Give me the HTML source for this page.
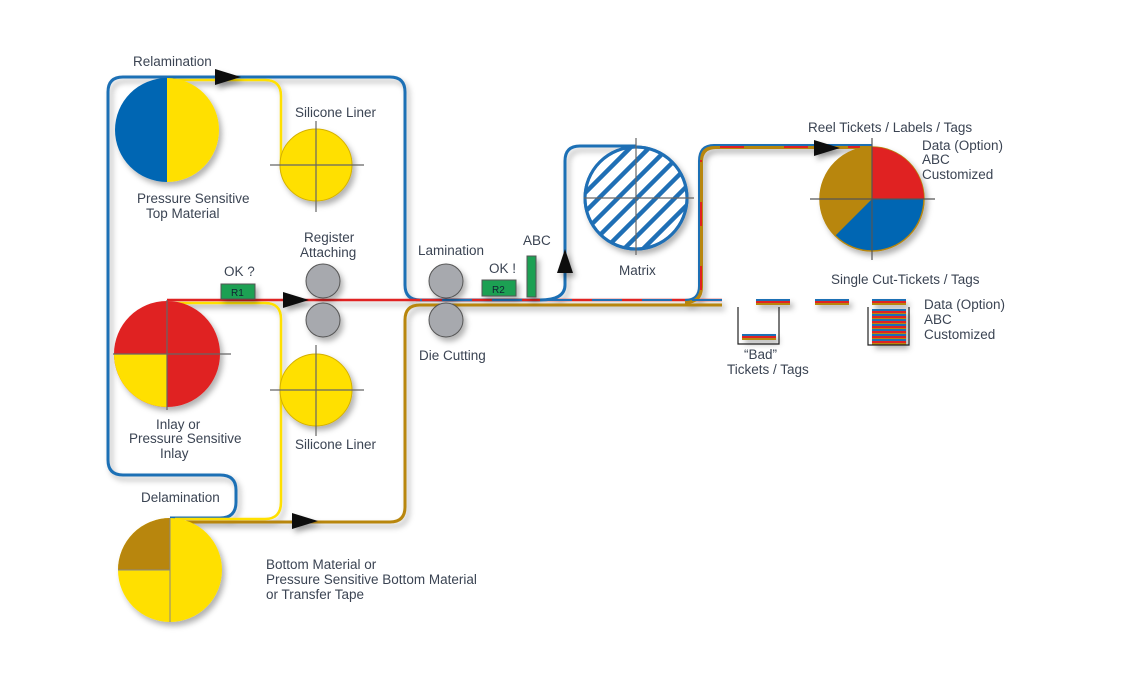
<!DOCTYPE html>
<html><head><meta charset="utf-8"><style>
html,body{margin:0;padding:0;background:#fff;}
svg{display:block}
text{font-family:"Liberation Sans",sans-serif;font-size:13.5px;fill:#3b4453;}
</style></head><body>
<svg width="1133" height="698" viewBox="0 0 1133 698" xmlns="http://www.w3.org/2000/svg">
<defs>
<filter id="sh" x="-20%" y="-20%" width="150%" height="150%"><feDropShadow dx="3" dy="4" stdDeviation="3" flood-color="#000" flood-opacity="0.3"/></filter>
<clipPath id="mc"><circle cx="636" cy="198" r="51"/></clipPath>
<g id="tk"><rect x="0" y="0" width="34" height="2" fill="#1f6fb5"/><rect x="0" y="2" width="34" height="2" fill="#e02020"/><rect x="0" y="4" width="34" height="2" fill="#b8860b"/></g>
</defs>

<g fill="none" stroke-width="3" filter="url(#sh)">
<path d="M170 518 L220 518 Q236 518 236 502 L236 490 Q236 475 220 475 L123 475 Q108 475 108 460 L108 92 Q108 77 123 77 L390 77 Q405 77 405 92 L405 285 Q405 300 420 300 L540 300" stroke="#1f6fb5"/>
<path d="M167 80 L265 80 Q281 80 281 96 L281 165" stroke="#ffe000" stroke-width="2.5"/>
<path d="M167 303 L265 303 Q281 303 281 319 L281 502 Q281 519 265 519 L175 519" stroke="#ffe000" stroke-width="2.5"/>
<path d="M175 522 L390 522 Q405 522 405 507 L405 320 Q405 305 420 305 L722 305" stroke="#b8860b"/>
<path d="M167 300 L722 300" stroke="#e02020" stroke-width="2.5"/>
<path d="M540 300 Q565 300 565 285 L565 161 Q565 146 580 146 L636 146" stroke="#1f6fb5"/>
<path d="M685 302 Q701 302 701 287 L701 162 Q701 147 716 147 L872 147" stroke="#b8860b" stroke-width="4"/>
<path d="M685 300 Q699 300 699 286 L699 161 Q699 145 714 145 L872 145" stroke="#1f6fb5" stroke-width="2"/>
</g>
<path d="M722 300 L420 300" stroke="#1f6fb5" stroke-width="2" stroke-dasharray="30 20" fill="none"/>
<path d="M701 290 L701 160 M720 147 L860 147" stroke="#e02020" stroke-width="2" stroke-dasharray="24 40" fill="none"/>

<g fill="#111" filter="url(#sh)">
<polygon points="215,69 241,77 215,85"/>
<polygon points="283,292 309,300 283,308"/>
<polygon points="292,513 318,521 292,529"/>
<polygon points="557,273 565,249 573,273"/>
<polygon points="814,140 840,148 814,156"/>
</g>

<g filter="url(#sh)">
<path d="M167 78 A52 52 0 0 0 167 182 Z" fill="#0066b3"/>
<path d="M167 78 A52 52 0 0 1 167 182 Z" fill="#ffe000"/>
</g>
<circle cx="316" cy="165" r="36" fill="#ffe000" stroke="#d4b000" filter="url(#sh)"/>
<path d="M270 165 L364 165 M316 121 L316 212" stroke="#666" stroke-width="1.2"/>
<circle cx="316" cy="390" r="36" fill="#ffe000" stroke="#d4b000" filter="url(#sh)"/>
<path d="M270 390 L364 390 M316 345 L316 436" stroke="#666" stroke-width="1.2"/>
<g filter="url(#sh)">
<circle cx="167" cy="354" r="53" fill="#e02020"/>
<path d="M167 354 L114 354 A53 53 0 0 0 167 407 Z" fill="#ffe000"/>
</g>
<path d="M113 354 L231 354 M167 300 L167 410" stroke="#666" stroke-width="1.2"/>
<g filter="url(#sh)">
<circle cx="170" cy="570" r="52" fill="#ffe000"/>
<path d="M170 570 L118 570 A52 52 0 0 1 170 518 Z" fill="#b8860b"/>
</g>
<path d="M118 570 L170 570 M170 518 L170 622" stroke="#888" stroke-width="1"/>

<g fill="#a7a9ae" stroke="#555" stroke-width="1" filter="url(#sh)">
<circle cx="323" cy="281" r="17"/><circle cx="323" cy="320" r="17"/>
<circle cx="446" cy="281" r="17"/><circle cx="446" cy="320" r="17"/>
</g>
<g fill="#1fa052" stroke="#555" filter="url(#sh)">
<rect x="221" y="284" width="34" height="15"/>
<rect x="482" y="280" width="34" height="16"/>
<rect x="527" y="256" width="9" height="41"/>
</g>
<text x="231" y="296" style="font-size:10px;fill:#123">R1</text>
<text x="492" y="293" style="font-size:10px;fill:#123">R2</text>

<g filter="url(#sh)"><circle cx="636" cy="198" r="51" fill="#fff" stroke="#1f6fb5" stroke-width="3"/></g>
<g clip-path="url(#mc)" stroke="#1f6fb5" stroke-width="4.5">
<path d="M560 180 L640 100 M560 199 L659 100 M560 218 L678 100 M560 237 L697 100 M560 256 L716 100 M575 260 L720 115 M594 260 L720 134 M613 260 L720 153 M632 260 L720 172 M651 260 L720 191 M560 161 L621 100"/>
</g>
<circle cx="636" cy="198" r="51" fill="none" stroke="#1f6fb5" stroke-width="3"/>
<path d="M584 198 L694 198 M636 138 L636 255" stroke="#666" stroke-width="1.2"/>

<g filter="url(#sh)">
<circle cx="872" cy="199" r="52" fill="#0066b3" stroke="#b8860b" stroke-width="1.5"/>
<path d="M872 199 L872 147 A52 52 0 0 1 924 199 Z" fill="#e02020"/>
<path d="M872 199 L872 147 A52 52 0 0 0 835 236 Z" fill="#b8860b"/>
</g>
<path d="M810 199 L935 199 M872 138 L872 260" stroke="#555" stroke-width="1.2"/>

<g filter="url(#sh)">
<use href="#tk" x="756" y="299"/><use href="#tk" x="815" y="299"/><use href="#tk" x="872" y="299"/>
<use href="#tk" x="742" y="334"/>
<use href="#tk" x="872" y="309"/><use href="#tk" x="872" y="314"/><use href="#tk" x="872" y="319"/><use href="#tk" x="872" y="324"/><use href="#tk" x="872" y="329"/><use href="#tk" x="872" y="334"/><use href="#tk" x="872" y="339"/>
</g>
<path d="M738 307 L738 344 L779 344 L779 307" fill="none" stroke="#222" stroke-width="1.2"/>
<path d="M868 307 L868 345 L909 345 L909 307" fill="none" stroke="#222" stroke-width="1.2"/>

<text x="133" y="66">Relamination</text>
<text x="295" y="117">Silicone Liner</text>
<text x="137" y="203">Pressure Sensitive</text>
<text x="146" y="218">Top Material</text>
<text x="304" y="242">Register</text>
<text x="300" y="257">Attaching</text>
<text x="224" y="276">OK ?</text>
<text x="418" y="255">Lamination</text>
<text x="489" y="273">OK !</text>
<text x="523" y="245">ABC</text>
<text x="419" y="360">Die Cutting</text>
<text x="619" y="275">Matrix</text>
<text x="156" y="429">Inlay or</text>
<text x="129" y="443">Pressure Sensitive</text>
<text x="160" y="458">Inlay</text>
<text x="295" y="449">Silicone Liner</text>
<text x="141" y="502">Delamination</text>
<text x="266" y="569">Bottom Material or</text>
<text x="266" y="584">Pressure Sensitive Bottom Material</text>
<text x="266" y="599">or Transfer Tape</text>
<text x="808" y="132">Reel Tickets / Labels / Tags</text>
<text x="922" y="150">Data (Option)</text>
<text x="922" y="164">ABC</text>
<text x="922" y="179">Customized</text>
<text x="831" y="284">Single Cut-Tickets  / Tags</text>
<text x="924" y="309">Data (Option)</text>
<text x="924" y="324">ABC</text>
<text x="924" y="339">Customized</text>
<text x="744" y="359">“Bad”</text>
<text x="727" y="374">Tickets / Tags</text>
</svg>
</body></html>
